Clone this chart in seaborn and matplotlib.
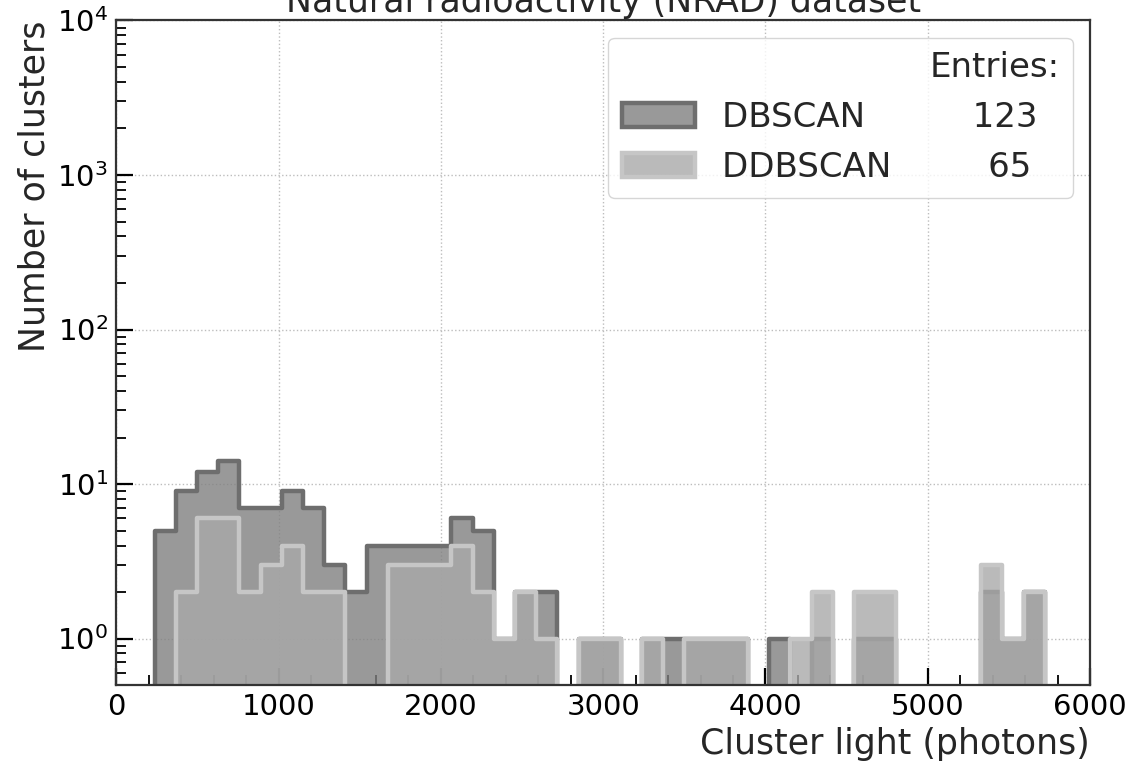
import numpy as np
import pandas as pd
import matplotlib
matplotlib.use("Agg")
import matplotlib.pyplot as plt
from matplotlib.patches import Patch
from matplotlib.ticker import MultipleLocator, LogLocator
import seaborn as sns

# Binning of the cluster light (photons)
bin_lo, bin_hi, n_bins = 236.0, 5721.0, 42

# Number of clusters in each light bin
dbscan_counts = [5, 9, 12, 14, 7, 7, 9, 7, 3, 2,
                 4, 4, 4, 4, 6, 5, 1, 2, 2, 0,
                 1, 1, 0, 1, 1, 1, 1, 1, 0, 1,
                 0, 1, 0, 1, 1, 0, 0, 0, 0, 2,
                 1, 2]
ddbscan_counts = [0, 2, 6, 6, 2, 3, 4, 2, 2, 0,
                  0, 3, 3, 3, 4, 2, 1, 2, 1, 0,
                  1, 1, 0, 1, 0, 1, 1, 1, 0, 0,
                  1, 2, 0, 2, 2, 0, 0, 0, 0, 3,
                  1, 2]
series_names = ["DBSCAN", "DDBSCAN"]

sns.set_style("white")
plt.rcParams["font.family"] = ["DejaVu Sans"]
plt.rcParams["mathtext.fontset"] = "dejavusans"

edges = np.linspace(bin_lo, bin_hi, n_bins + 1)
centers = 0.5 * (edges[:-1] + edges[1:])

fig = plt.figure(figsize=(11.26, 7.62), dpi=100)
ax = fig.add_axes([0.1034, 0.101, 0.8646, 0.8721])

styles = [
    dict(color="gray", alpha=0.8, edgecolor="#6e6e6e", linewidth=3.2),
    dict(color="darkgray", alpha=0.8, edgecolor="#c6c6c6", linewidth=3.2),
]
handles, labels = [], []
for name, counts, st in zip(series_names, [dbscan_counts, ddbscan_counts], styles):
    frame = pd.DataFrame({"light": centers, "clusters": np.asarray(counts, float)})
    sns.histplot(data=frame, x="light", weights="clusters", bins=edges.tolist(),
                 element="step", fill=True, ax=ax, **st)
    handles.append(Patch(facecolor=matplotlib.colors.to_rgba(st["color"], st["alpha"]),
                         edgecolor=st["edgecolor"], linewidth=st["linewidth"]))
    labels.append(f"{name:<16}{int(np.sum(counts))}  ")

ax.set_yscale("log")
ax.set_xlim(0, 6000)
ax.set_ylim(0.5, 1e4)

ax.xaxis.set_major_locator(MultipleLocator(1000))
ax.xaxis.set_minor_locator(MultipleLocator(200))
ax.yaxis.set_major_locator(LogLocator(base=10, numticks=10))
ax.yaxis.set_minor_locator(LogLocator(base=10, subs=np.arange(2, 10), numticks=20))

ax.tick_params(which="both", direction="in", bottom=True, left=True,
               top=False, right=False, colors="black")
ax.tick_params(which="major", length=12, width=1.6, labelsize=21, pad=6)
ax.tick_params(which="minor", length=7, width=1.3)
for sp in ax.spines.values():
    sp.set_linewidth(1.6)
    sp.set_color("#333333")

ax.grid(True, which="major", linestyle=":", color="#bdbdbd", linewidth=1.0)
ax.set_axisbelow(True)

ax.set_xlabel("Cluster light (photons)", fontsize=25, loc="right")
ax.set_ylabel("Number of clusters", fontsize=25, loc="top")
ax.set_title("Natural radioactivity (NRAD) dataset", fontsize=25)

leg = ax.legend(handles, labels, title="Entries:", alignment="right",
                loc="upper right", fontsize=24.5, title_fontsize=24.5,
                handlelength=2.15, frameon=True, fancybox=True,
                edgecolor="#cccccc")

fig.savefig("out.png", dpi=100)
